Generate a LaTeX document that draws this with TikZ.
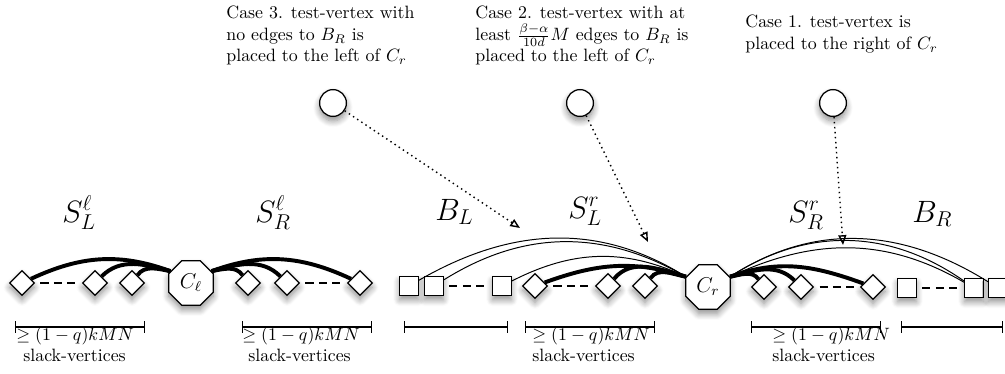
\documentclass[tikz,border=0pt]{standalone}
\usetikzlibrary{shapes.geometric,arrows.meta,shadows.blur}
\tikzset{
  nshadow/.style={blur shadow={shadow xshift=0pt, shadow yshift=-2.5pt, shadow blur radius=3.5pt, shadow blur steps=8, shadow opacity=45}},
  dia/.style={diamond, draw, fill=white, line width=0.7pt, minimum size=14pt, inner sep=0pt, nshadow},
  sqr/.style={rectangle, draw, fill=white, line width=0.7pt, minimum size=10.5pt, inner sep=0pt, nshadow},
  oct/.style={regular polygon, regular polygon sides=8, draw, fill=white, line width=0.7pt, minimum size=27pt, inner sep=0pt, nshadow, font=\large},
  tv/.style={circle, draw, fill=white, line width=0.7pt, minimum size=15pt, inner sep=0pt, nshadow},
  thk/.style={line width=2.2pt},
  thn/.style={line width=0.55pt},
  dsh/.style={line width=0.6pt, dash pattern=on 4.5pt off 3pt, shorten <=3pt, shorten >=3pt},
  dotarrow/.style={line width=0.8pt, dotted, -{Triangle[open,length=5.5pt,width=4.5pt]}},
  brk/.style={line width=0.8pt, |-|},
  setlabel/.style={anchor=base west, inner sep=0pt, font=\LARGE},
  captext/.style={anchor=north west, inner sep=0pt, align=left},
  brklabel/.style={anchor=base west, inner sep=0pt},
}
\begin{document}
\begin{tikzpicture}[x=0.56pt,y=0.56pt]
\path[use as bounding box] (0,0) rectangle (1005,373);

% captions
\node[captext] (t3) at (226,367) {Case 3. test-vertex with\\ no edges to $B_R$ is\\ placed to the left of $C_r$};
\node[captext] (t2) at (475,367) {Case 2. test-vertex with at\\ least $\frac{\beta-\alpha}{10d}M$ edges to $B_R$ is\\ placed to the left of $C_r$};
\node[captext] (t1) at (745,358) {Case 1. test-vertex is\\ placed to the right of $C_r$};

% test vertices
\node[tv] (c3) at (333,270) {};
\node[tv] (c2) at (580,270) {};
\node[tv] (c1) at (833,270) {};

% set labels
\node[setlabel] (SLl) at (62,151) {$S_L^\ell$};
\node[setlabel] (SRl) at (255,151) {$S_R^\ell$};
\node[setlabel] (BL) at (435,153) {$B_L$};
\node[setlabel] (SLr) at (568,155) {$S_L^r$};
\node[setlabel] (SRr) at (788,151) {$S_R^r$};
\node[setlabel] (BR) at (912,151) {$B_R$};

% left group
\node[dia] (d1) at (22,90) {};
\node[dia] (d2) at (95,90) {};
\node[dia] (d3) at (132,90) {};
\node[oct] (Cl) at (191,90) {$C_\ell$};
\node[dia] (d4) at (248,90) {};
\node[dia] (d5) at (287,90) {};
\node[dia] (d6) at (360,90) {};

% right group
\node[sqr] (s1) at (409,87) {};
\node[sqr] (s2) at (434,87) {};
\node[sqr] (s3) at (502,87) {};
\node[dia] (dA) at (535,87) {};
\node[dia] (dB) at (608,87) {};
\node[dia] (dC) at (645,87) {};
\node[oct] (Cr) at (708,86) {$C_r$};
\node[dia] (dD) at (764,86) {};
\node[dia] (dE) at (801,86) {};
\node[dia] (dF) at (873,86) {};
\node[sqr] (s4) at (907,85) {};
\node[sqr] (s5) at (974,85) {};
\node[sqr] (s6) at (998,85) {};

% dashed gaps
\draw[dsh] (d1) -- (d2);
\draw[dsh] (d5) -- (d6);
\draw[dsh] (s2) -- (s3);
\draw[dsh] (dA) -- (dB);
\draw[dsh] (dE) -- (dF);
\draw[dsh] (s4) -- (s5);

% thick edges, left group
\draw[thk] (d1) to[out=25,in=160] (Cl.150);
\draw[thk] (d2) to[out=45,in=165] (Cl.150);
\draw[thk] (d3) to[out=55,in=170] (Cl.150);
\draw[thk] (Cl.30) to[out=10,in=125] (d4);
\draw[thk] (Cl.30) to[out=15,in=135] (d5);
\draw[thk] (Cl.30) to[out=20,in=155] (d6);

% right group, left of Cr
\draw[thn] (s1) to[out=30,in=148] (Cr.155);
\draw[thn] (s2) to[out=32,in=150] (Cr.155);
\draw[thn] (s3) to[out=27,in=155] (Cr.155);
\draw[thk] (dA) to[out=20,in=162] (Cr.155);
\draw[thk] (dB) to[out=50,in=165] (Cr.155);
\draw[thk] (dC) to[out=55,in=170] (Cr.155);

% right group, right of Cr
\draw[thk] (Cr.25) to[out=10,in=125] (dD);
\draw[thk] (Cr.25) to[out=15,in=135] (dE);
\draw[thk] (Cr.25) to[out=20,in=160] (dF);
\draw[thn] (Cr.25) to[out=25,in=150] (s5);
\draw[thn] (Cr.25) to[out=33,in=145] (s5);
\draw[thn] (Cr.25) to[out=33,in=148] (s6);

% dotted arrows
\coordinate (a3) at (520,145);
\coordinate (a2) at (648,131);
\coordinate (a1) at (843,128);
\draw[dotarrow] (c3) -- (a3);
\draw[dotarrow] (c2) -- (a2);
\draw[dotarrow] (c1) -- (a1);

% brackets
\coordinate (b1l) at (15,46);  \coordinate (b1r) at (145,46);
\coordinate (b2l) at (242,46); \coordinate (b2r) at (372,46);
\coordinate (b3l) at (404,46); \coordinate (b3r) at (508,46);
\coordinate (b4l) at (525,46); \coordinate (b4r) at (655,46);
\coordinate (b5l) at (751,46); \coordinate (b5r) at (881,46);
\coordinate (b6l) at (901,46); \coordinate (b6r) at (1003,46);
\draw[brk] (b1l) -- (b1r);
\draw[brk] (b2l) -- (b2r);
\draw[brk] (b3l) -- (b3r);
\draw[brk] (b4l) -- (b4r);
\draw[brk] (b5l) -- (b5r);
\draw[brk] (b6l) -- (b6r);

% bracket labels
\node[brklabel] (n1) at (16,33) {$\geq(1-q)kMN$};
\node[brklabel] (v1) at (23,12) {slack-vertices};
\node[brklabel] (n2) at (242,33) {$\geq(1-q)kMN$};
\node[brklabel] (v2) at (248,12) {slack-vertices};
\node[brklabel] (n3) at (532,33) {$\geq(1-q)kMN$};
\node[brklabel] (v3) at (532,12) {slack-vertices};
\node[brklabel] (n4) at (772,33) {$\geq(1-q)kMN$};
\node[brklabel] (v4) at (772,12) {slack-vertices};
\end{tikzpicture}
\end{document}
